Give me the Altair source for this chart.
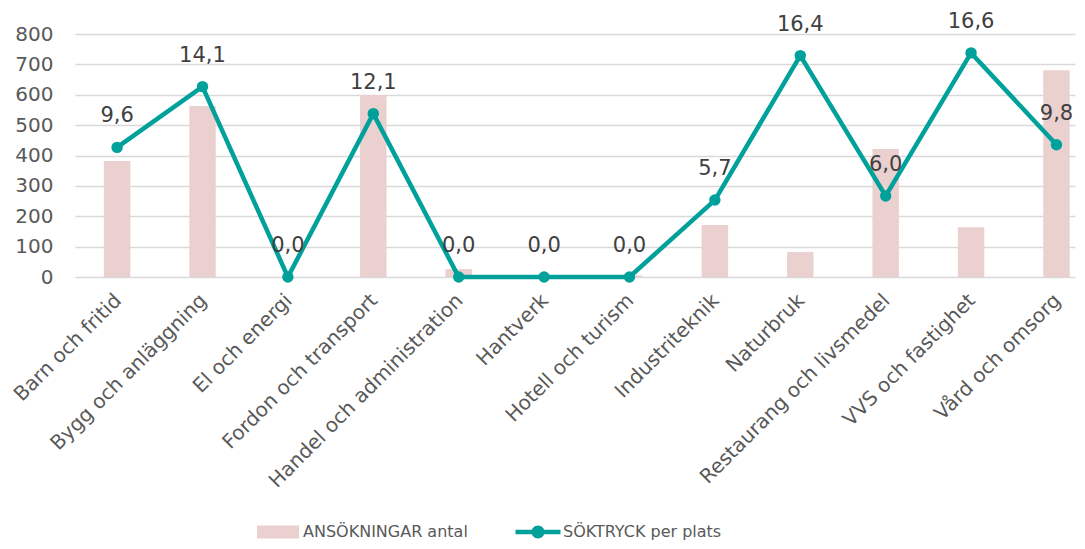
import altair as alt
import pandas as pd

categories = ["Barn och fritid", "Bygg och anläggning", "El och energi", "Fordon och transport",
              "Handel och administration", "Hantverk", "Hotell och turism", "Industriteknik",
              "Naturbruk", "Restaurang och livsmedel", "VVS och fastighet", "Vård och omsorg"]
ansokningar = [382, 563, 0, 599, 26, 0, 5, 171, 82, 421, 164, 681]
soktryck = [9.6, 14.1, 0.0, 12.1, 0.0, 0.0, 0.0, 5.7, 16.4, 6.0, 16.6, 9.8]
series = ["ANSÖKNINGAR antal", "SÖKTRYCK per plats"]
y_ticks = [0, 100, 200, 300, 400, 500, 600, 700, 800]

rows = []
for c, a, s in zip(categories, ansokningar, soktryck):
    rows.append({"kat": c, "serie": series[0], "varde": a, "etikett": ""})
    rows.append({"kat": c, "serie": series[1], "varde": s,
                 "etikett": f"{s:.1f}".replace(".", ",")})
df = pd.DataFrame(rows)

PINK = "#EBD0D0"
TEAL = "#00A19A"
FONT = "DejaVu Sans"

bar_path = "M-2.1,-0.65H2.1V0.65H-2.1Z"
line_path = ("M-2.25,-0.225H2.25V0.225H-2.25Z "
             "M0.65,0A0.65,0.65,0,1,1,-0.65,0A0.65,0.65,0,1,1,0.65,0Z")

xenc = alt.X("kat:N", sort=categories, title=None,
             scale=alt.Scale(paddingInner=0.69, paddingOuter=0.2, align=0.845),
             axis=alt.Axis(labelAngle=-45, labelAlign="right", labelBaseline="top",
                           labelPadding=13, labelOffset=-6, labelFontSize=20,
                           labelColor="#595959", labelFont=FONT, ticks=False,
                           domain=False, labelLimit=400))

color = alt.Color("serie:N",
                  scale=alt.Scale(domain=series, range=[PINK, TEAL]),
                  legend=alt.Legend(
                      orient="none", legendX=193, legendY=488, direction="horizontal",
                      title=None, symbolSize=400, labelOffset=15, columnPadding=47,
                      labelFontSize=16, labelColor="#595959", labelFont=FONT,
                      padding=0, labelLimit=400,
                      symbolType=alt.ExprRef(expr=f"datum.index === 0 ? '{bar_path}' : '{line_path}'"),
                      symbolFillColor=alt.ExprRef(expr=f"datum.index === 0 ? '{PINK}' : '{TEAL}'"),
                      symbolStrokeWidth=0,
                      symbolOpacity=1,
                  ))

ys = alt.Scale(domain=[0, 18], nice=False)

bars = alt.Chart(df).transform_filter(alt.datum.serie == series[0]).mark_bar().encode(
    x=xenc,
    y=alt.Y("varde:Q", title=None, scale=alt.Scale(domain=[0, 800], nice=False),
            axis=alt.Axis(values=y_ticks, grid=True, gridColor="#D9D9D9", gridWidth=1.3,
                          domain=False, ticks=False, tickSize=0, labelPadding=22,
                          labelFontSize=20, labelColor="#595959", labelFont=FONT)),
    color=color,
)

line = alt.Chart(df).transform_filter(alt.datum.serie == series[1]).mark_line(
    strokeWidth=4.5).encode(
    x=xenc,
    y=alt.Y("varde:Q", scale=ys, axis=None),
    color=color,
)

points = alt.Chart(df).transform_filter(alt.datum.serie == series[1]).mark_circle(
    size=130, color=TEAL, opacity=1).encode(
    x=xenc,
    y=alt.Y("varde:Q", scale=ys, axis=None),
)

labels = alt.Chart(df).transform_filter(alt.datum.serie == series[1]).mark_text(
    dy=-31, fontSize=21, color="#404040", font=FONT).encode(
    x=xenc,
    y=alt.Y("varde:Q", scale=ys, axis=None),
    text="etikett:N",
)

chart = alt.layer(bars, line, points, labels).resolve_scale(y="independent").properties(
    width=1000, height=243,
    autosize=alt.AutoSizeParams(type="none"),
    padding={"left": 67, "top": 26, "right": 2, "bottom": 264},
).configure_view(stroke=None)

chart.save("out.html", embed_options={"renderer": "svg", "actions": False})
